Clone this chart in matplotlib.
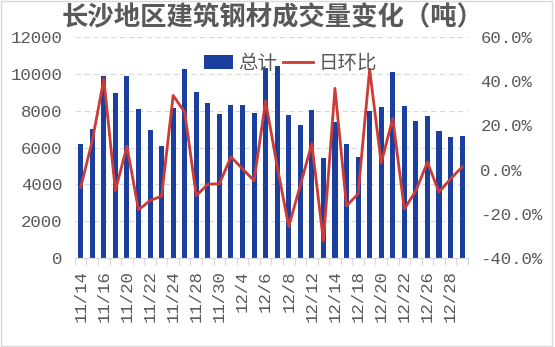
import numpy as np
import matplotlib
matplotlib.use("Agg")
import matplotlib.pyplot as plt
from matplotlib.patches import Rectangle
from matplotlib.ticker import FuncFormatter, MultipleLocator, FixedLocator

plt.rcParams['font.family'] = ['Noto Sans CJK SC', 'DejaVu Sans']

# trading days, 11/14 - 12/29
dates = ['11/14', '11/15', '11/16', '11/17', '11/20', '11/21', '11/22', '11/23',
         '11/24', '11/27', '11/28', '11/29', '11/30', '12/1', '12/4', '12/5',
         '12/6', '12/7', '12/8', '12/11', '12/12', '12/13', '12/14', '12/15',
         '12/18', '12/19', '12/20', '12/21', '12/22', '12/25', '12/26', '12/27',
         '12/28', '12/29']

# total volume (tons)
total = [6200, 7000, 9900, 8950, 9900, 8100, 6950, 6100,
         8150, 10250, 9000, 8400, 7850, 8300, 8330, 7900,
         10300, 10450, 7750, 7200, 8050, 5450, 7400, 6200,
         5500, 8000, 8200, 10100, 8250, 7450, 7700, 6900,
         6600, 6650]

# day-over-day change
dod = [-0.08, 0.13, 0.41, -0.095, 0.106, -0.182, -0.14, -0.12,
       0.336, 0.26, -0.118, -0.066, -0.064, 0.058, 0.004, -0.05,
       0.31, 0.015, -0.258, -0.071, 0.118, -0.323, 0.368, -0.164,
       -0.11, 0.454, 0.03, 0.232, -0.178, -0.096, 0.034, -0.102,
       -0.042, 0.012]

BLUE = '#1a3f9e'
RED = '#cc3b36'
GRAY = '#595959'
LIGHT = '#d9d9d9'
TICKFONT = 'Liberation Mono'

fig = plt.figure(figsize=(5.55, 3.47), dpi=100)
ax = fig.add_axes([0.135, 0.2565, 0.708, 0.6365])
ax2 = ax.twinx()

x = np.arange(len(dates))
bars = ax.bar(x, total, width=0.44, color=BLUE, zorder=2, label='总计')
line, = ax2.plot(x, dod, color=RED, lw=2.0, zorder=3, label='日环比')

# left axis
ax.set_ylim(0, 12000)
ax.yaxis.set_major_locator(MultipleLocator(2000))
ax.grid(axis='y', color=LIGHT, ls=(0, (5, 3)), lw=0.8, zorder=0)
ax.set_axisbelow(True)

# right axis
ax2.set_ylim(-0.4, 0.6)
ax2.yaxis.set_major_locator(MultipleLocator(0.2))
ax2.yaxis.set_major_formatter(FuncFormatter(lambda v, p: '%.1f%%' % (v * 100)))

ax.set_xlim(-0.5, len(dates) - 0.5)
ax.set_xticks(x[::2])
ax.set_xticklabels(dates[::2], rotation=90)
ax.xaxis.set_minor_locator(FixedLocator(np.arange(-0.5, len(dates), 1)))
ax.tick_params(axis='x', which='major', length=0, pad=9)
ax.tick_params(axis='x', which='minor', length=5, color=LIGHT, width=0.8)

for a in (ax, ax2):
    for s in ('top', 'left', 'right'):
        a.spines[s].set_visible(False)
    a.spines['bottom'].set_color(LIGHT)
    a.tick_params(axis='y', length=0, pad=9)
    for lab in a.get_xticklabels() + a.get_yticklabels():
        lab.set_fontfamily(TICKFONT)
        lab.set_fontsize(12.5)
        lab.set_color(GRAY)

fig.legend(handles=[bars, line], labels=['总计', '日环比'], loc='center',
           bbox_to_anchor=(0.523, 0.818), ncol=2, frameon=False,
           fontsize=14, labelcolor=GRAY, handlelength=1.5, handleheight=0.7,
           handletextpad=0.3, columnspacing=0.3)

fig.text(0.492, 0.948, '长沙地区建筑钢材成交量变化（吨）', ha='center', va='center',
         fontsize=19, fontweight='bold', color=GRAY)

fig.patches.append(Rectangle((0.001, 0.002), 0.994, 0.995, transform=fig.transFigure,
                             fill=False, edgecolor=LIGHT, lw=1))

fig.savefig('out.png', dpi=100)
